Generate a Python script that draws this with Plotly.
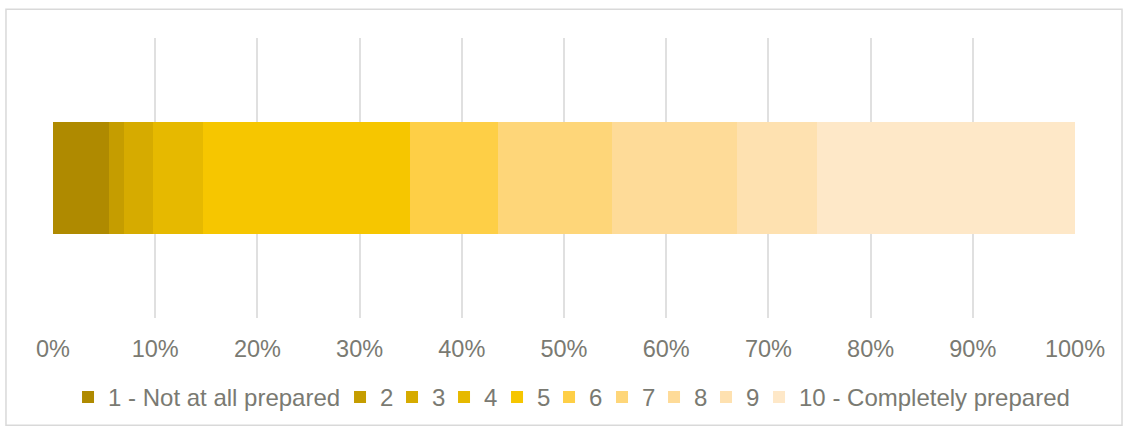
import plotly.graph_objects as go

categories = ["Preparedness"]
series_names = ["1 - Not at all prepared", "2", "3", "4", "5", "6", "7", "8", "9", "10 - Completely prepared"]
series_values = [5.5, 1.4, 2.9, 4.9, 20.2, 8.6, 11.2, 12.2, 7.9, 25.2]
colors = ["#AF8A00", "#C59D00", "#D6AB00", "#E6B900", "#F6C600", "#FECF46", "#FED679", "#FEDB98", "#FEE1B0", "#FEE8C8"]
tick_vals = [i / 10 for i in range(11)]
tick_text = [f"{i*10}%" for i in range(11)]
legend_widths = [227, 7, 7, 8, 7, 8, 7, 7, 8, None]

fig = go.Figure()
for name, val, col, lw in zip(series_names, series_values, colors, legend_widths):
    tr = go.Bar(
        y=categories, x=[val / 100], name=name, orientation="h",
        marker=dict(color=col, line=dict(width=0)), width=0.4,
        hoverinfo="name+x",
    )
    if lw is not None:
        tr.legendwidth = lw
    fig.add_trace(tr)

txt = "#7A7A72"
fig.update_layout(
    barmode="stack",
    width=1128, height=432,
    margin=dict(l=53, r=53, t=38, b=112),
    paper_bgcolor="white", plot_bgcolor="white",
    font=dict(family="Liberation Sans, Arial, sans-serif", size=23.5, color=txt),
    bargap=0.6,
    xaxis=dict(range=[0, 1], tickvals=tick_vals, ticktext=tick_text,
               showgrid=True, gridcolor="#E0E0E0", gridwidth=2,
               zeroline=False, showline=False, ticks="", ticklabelstandoff=14,
               tickfont=dict(size=23.5, color=txt), fixedrange=True),
    yaxis=dict(showticklabels=False, showgrid=False, zeroline=False,
               range=[-0.5, 0.5], fixedrange=True),
    legend=dict(orientation="h", x=0.0147, xanchor="left", y=-0.203, yanchor="top",
                font=dict(size=24, color=txt), traceorder="normal",
                itemclick=False, itemdoubleclick=False, tracegroupgap=0),
    showlegend=True,
)
fig.add_shape(type="rect", xref="paper", yref="paper",
              x0=-0.046, x1=1.046, y0=-0.383, y1=1.103,
              line=dict(color="#D9D9D9", width=1.5), fillcolor="rgba(0,0,0,0)", layer="below")
fig.write_html("out.html")
